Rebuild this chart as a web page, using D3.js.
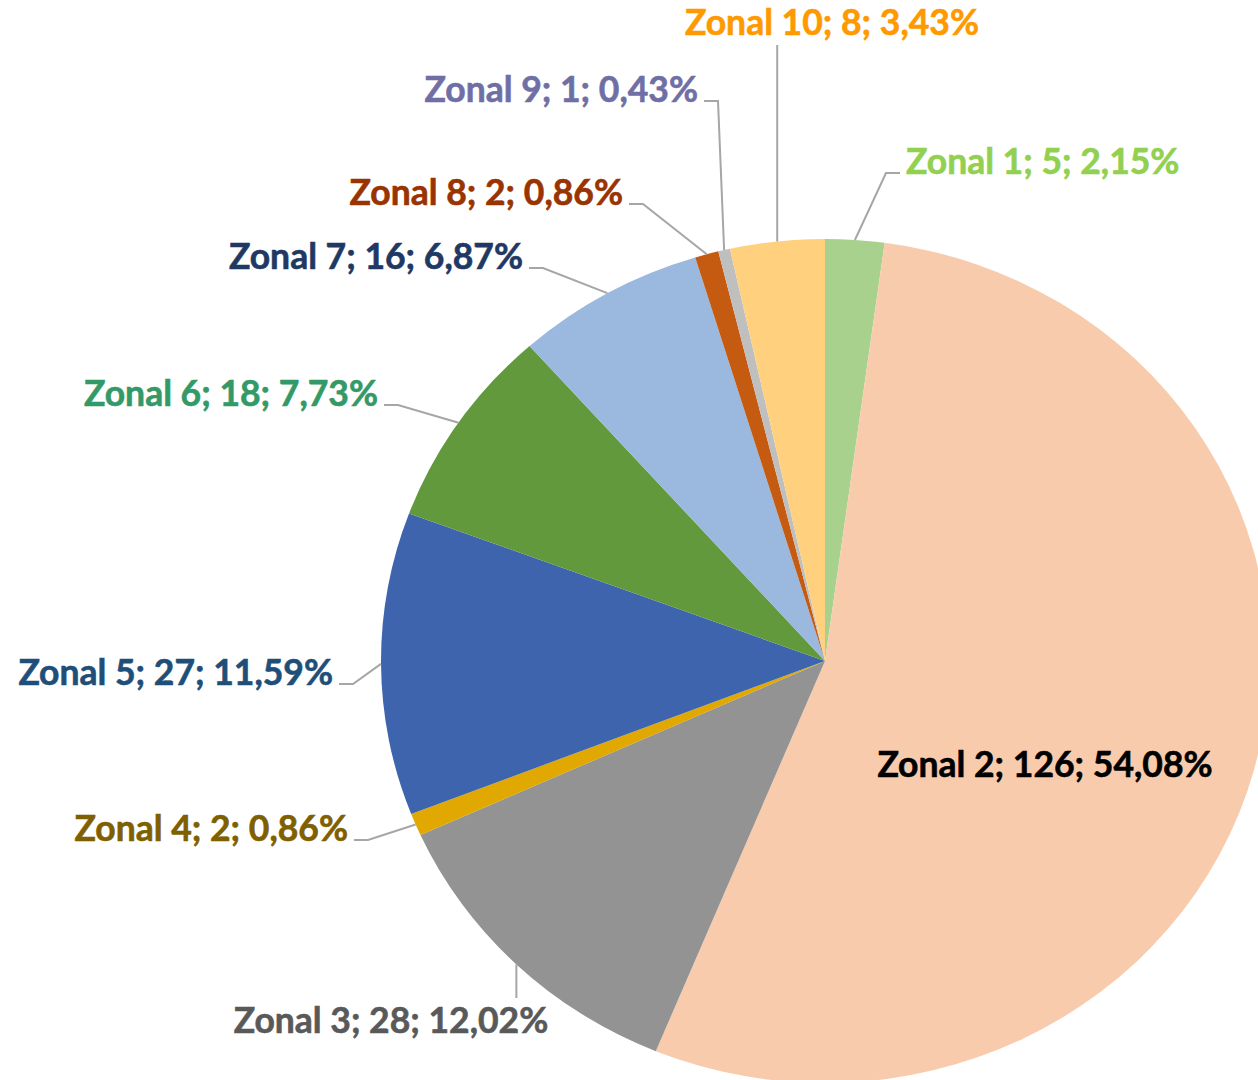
<!DOCTYPE html>
<html>
<head>
<meta charset="utf-8">
<script src="https://cdn.jsdelivr.net/npm/d3@7"></script>
<style>
  html, body { margin: 0; padding: 0; background: #fff; }
  svg text { font-family: Lato, "Open Sans", sans-serif; font-weight: bold; }
</style>
</head>
<body>
<svg id="pieSvg" width="1258" height="1080"></svg>
<script>
// data
var zones = ["Zonal 1", "Zonal 2", "Zonal 3", "Zonal 4", "Zonal 5", "Zonal 6", "Zonal 7", "Zonal 8", "Zonal 9", "Zonal 10"];
var counts = [5, 126, 28, 2, 27, 18, 16, 2, 1, 8];
var percents = ["2,15%", "54,08%", "12,02%", "0,86%", "11,59%", "7,73%", "6,87%", "0,86%", "0,43%", "3,43%"];

// styles
var sliceColor = ["#A9D18E", "#F8CBAD", "#939393", "#E0A800", "#3D64AC", "#63993D", "#9BB9DF", "#C55A11", "#BFBFBF", "#FFD17F"];
var labelColor = ["#92D050", "#000000", "#595959", "#7F6000", "#1F4E79", "#339966", "#1F3864", "#993300", "#6F6FA6", "#FF9900"];
// label spot: text x, baseline y, anchor, leader kind
var labelSpots = [
    [906, 174, "start", "elbow"],
    [1045, 777, "middle", "none"],
    [391, 1033, "middle", "down"],
    [348, 841, "end", "elbow"],
    [333, 685, "end", "elbow"],
    [378, 406, "end", "elbow"],
    [523, 269, "end", "elbow"],
    [623, 205, "end", "elbow"],
    [698, 102, "end", "elbow"],
    [832, 35, "middle", "up"]
];

var svg = d3.select("#pieSvg");
var cx = 825, cy = 661, r = 422, sx = 444 / 422;

var pie = d3.pie().sort(null).value(function (d) { return d; });
var arcs = pie(counts);
var arc = d3.arc().innerRadius(0).outerRadius(r);
var edgeArc = d3.arc().innerRadius(r).outerRadius(r);

var g = svg.append("g").attr("transform", "translate(" + cx + "," + cy + ")");
g.append("g").attr("transform", "scale(" + sx + ",1)")
    .selectAll("path").data(arcs).enter()
    .append("path")
    .attr("d", arc)
    .style("fill", function (d, i) { return sliceColor[i]; });

// leader lines
var line = d3.line();
var lines = [];
arcs.forEach(function (d, i) {
    var c = edgeArc.centroid(d);
    var edge = [cx + c[0] * sx, cy + c[1]];
    var s = labelSpots[i];
    if (s[3] == "elbow") {
        var dir = s[2] == "end" ? 1 : -1;
        var x0 = s[0] + dir * 6;
        lines.push([[x0, s[1] - 1], [x0 + dir * 14, s[1] - 1], edge]);
    } else if (s[3] == "up") {
        lines.push([[edge[0], s[1] + 10], edge]);
    } else if (s[3] == "down") {
        lines.push([[edge[0], s[1] - 35], edge]);
    }
});
svg.append("g").selectAll("path").data(lines).enter()
    .append("path")
    .attr("d", line)
    .attr("stroke", "#A6A6A6")
    .attr("stroke-width", 2)
    .style("fill", "none");

// labels
svg.append("g").selectAll("text").data(zones).enter()
    .append("text")
    .attr("x", function (d, i) { return labelSpots[i][0]; })
    .attr("y", function (d, i) { return labelSpots[i][1]; })
    .attr("text-anchor", function (d, i) { return labelSpots[i][2]; })
    .style("font-size", "35.5px")
    .style("fill", function (d, i) { return labelColor[i]; })
    .style("stroke", function (d, i) { return labelColor[i]; })
    .style("stroke-width", 0.6)
    .text(function (d, i) { return d + "; " + counts[i] + "; " + percents[i]; });
</script>
</body>
</html>
